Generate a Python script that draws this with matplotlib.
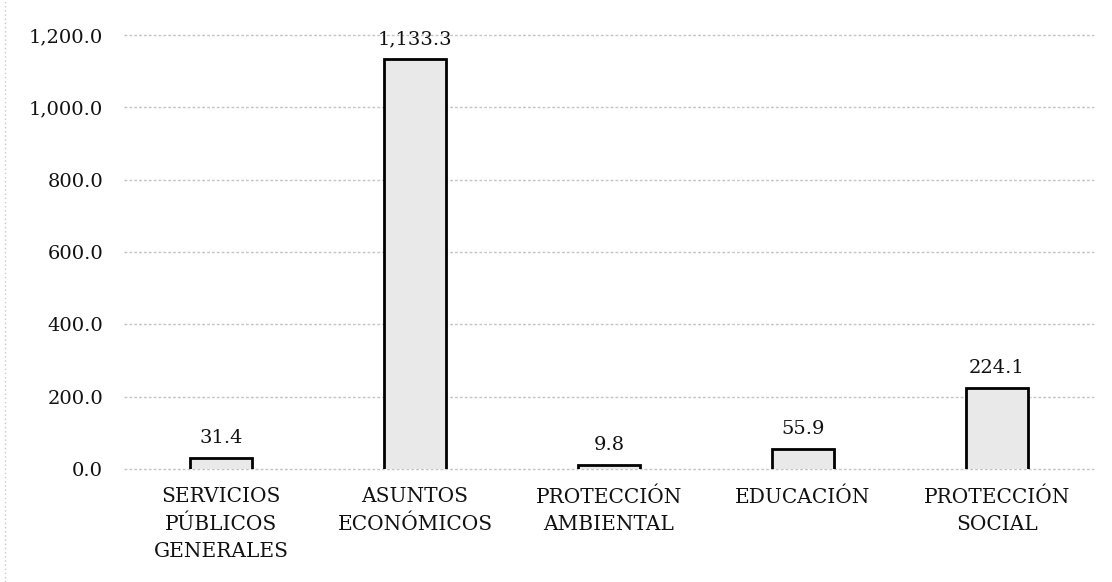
import matplotlib
matplotlib.use("Agg")
import matplotlib.pyplot as plt
from matplotlib.ticker import FuncFormatter, MultipleLocator
from matplotlib.lines import Line2D

categories = ["SERVICIOS\nPÚBLICOS\nGENERALES", "ASUNTOS\nECONÓMICOS",
              "PROTECCIÓN\nAMBIENTAL", "EDUCACIÓN", "PROTECCIÓN\nSOCIAL"]
values = [31.4, 1133.3, 9.8, 55.9, 224.1]
value_labels = ["31.4", "1,133.3", "9.8", "55.9", "224.1"]

plt.rcParams['font.family'] = ['DejaVu Serif']

fig = plt.figure(figsize=(11.12, 5.82), dpi=100)
ax = fig.add_axes([124/1112, 1-469/582, (1094-124)/1112, (469-35)/582])

x = list(range(len(values)))
w = 0.315
ax.bar(x, values, width=w, color="#e9e9e9", edgecolor="none", zorder=2)
for xi, v in zip(x, values):
    ax.plot([xi - w/2, xi - w/2, xi + w/2, xi + w/2], [0, v, v, 0],
            color="black", lw=2.0, zorder=3, solid_joinstyle="miter")
for xi, v, lab in zip(x, values, value_labels):
    ax.annotate(lab, (xi, v), xytext=(0, 8), textcoords="offset points",
                ha="center", va="bottom", fontsize=14, color="#111111")

ax.set_xlim(-0.5, len(values) - 0.5)
ax.set_ylim(0, 1200)
ax.yaxis.set_major_locator(MultipleLocator(200))
ax.yaxis.set_major_formatter(FuncFormatter(lambda v, p: f"{v:,.1f}"))
ax.set_xticks(x)
ax.set_xticklabels(categories, fontsize=14.5, linespacing=1.55, color="#111111")
ax.tick_params(axis="x", length=0, pad=13)
ax.tick_params(axis="y", length=0, pad=15, labelsize=14, labelcolor="#111111")
ax.grid(axis="y", color="#c4c4c4", lw=1.0, linestyle=(0, (2, 1.5)), zorder=0)
for gl in ax.get_ygridlines():
    gl.set_clip_on(False)
for s in ax.spines.values():
    s.set_visible(False)

fig.add_artist(Line2D([5/1112, 5/1112], [0, 1], transform=fig.transFigure,
                      color="#c8c8c8", lw=1, linestyle=(0, (1, 2))))

fig.savefig("out.png", dpi=100)
